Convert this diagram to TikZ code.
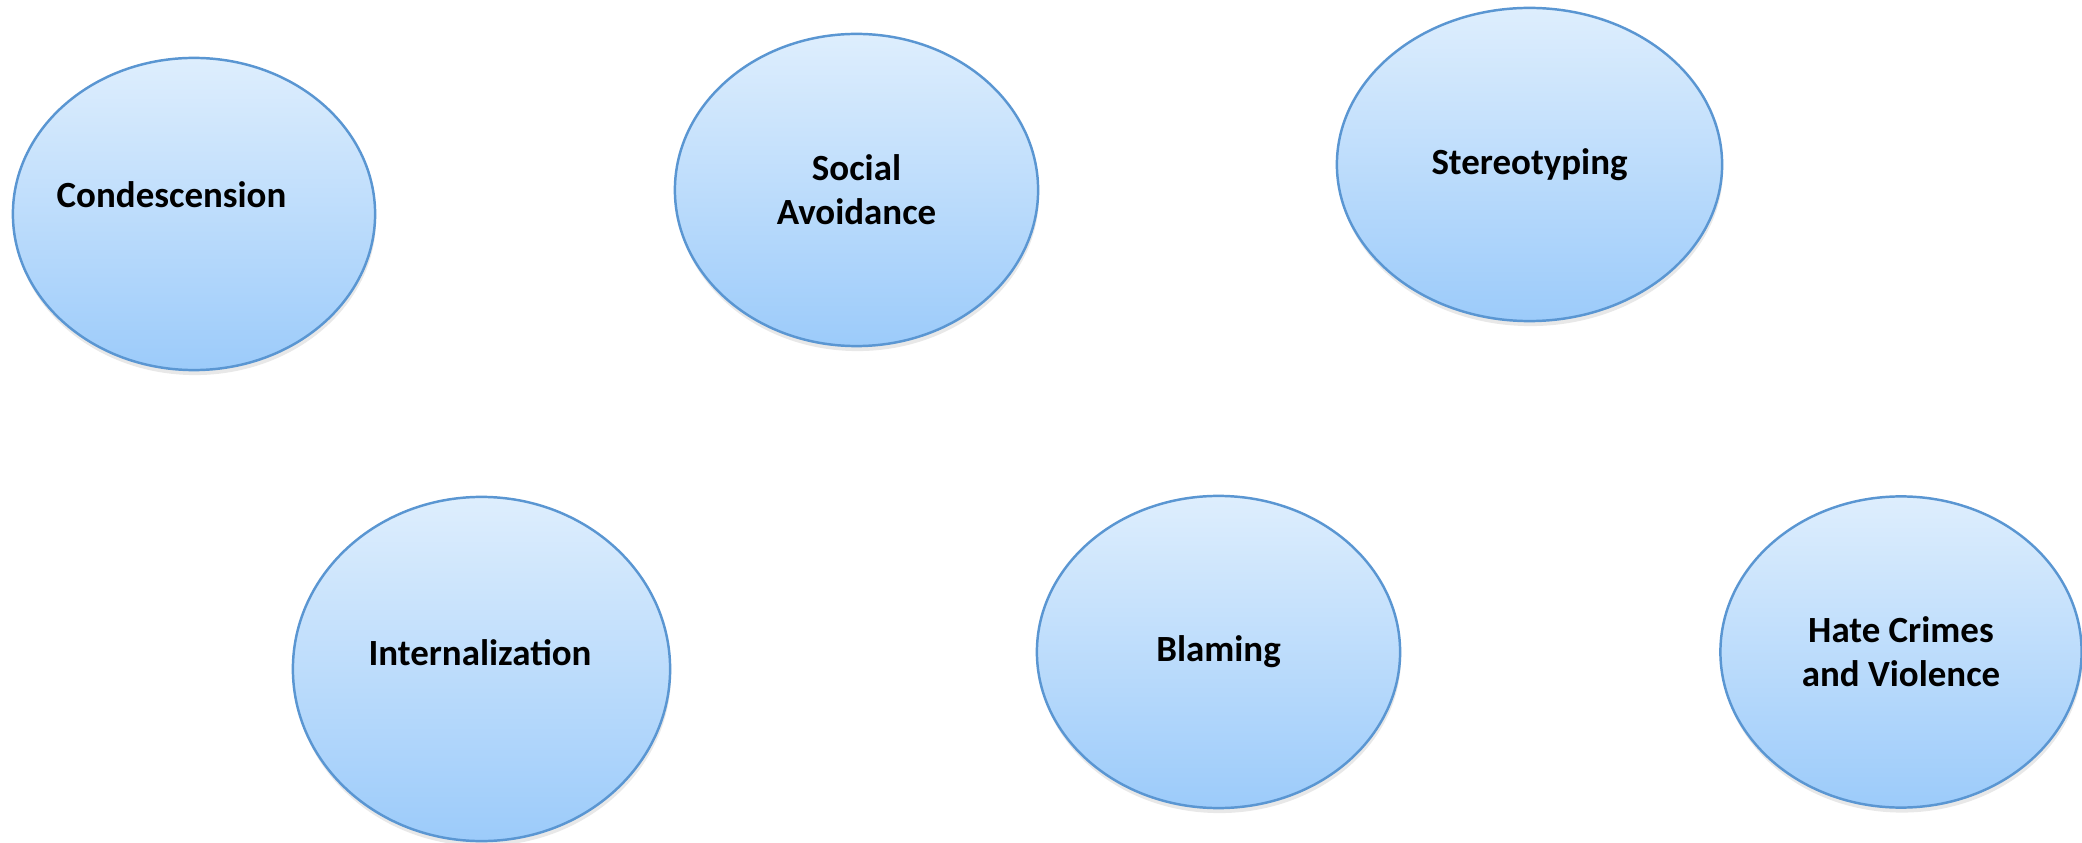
\documentclass[tikz,border=0pt]{standalone}
\usepackage{fontspec}
\setmainfont{Carlito}
\usetikzlibrary{shapes.geometric,shadows,positioning}

\definecolor{bubbletop}{HTML}{DEEEFD}
\definecolor{bubblebottom}{HTML}{9CCBFA}
\definecolor{bubbleline}{HTML}{5A96D2}

\begin{document}
\begin{tikzpicture}[
     x=0.01cm, y=0.01cm,
     % define styles
     bubble/.style={
         ellipse,
         draw=bubbleline,
         line width=0.7pt,
         top color=bubbletop,
         bottom color=bubblebottom,
         inner sep=0pt,
         drop shadow={opacity=0.18, shadow xshift=0.01cm, shadow yshift=-0.05cm},
         font=\fontsize{10.5}{12.5}\selectfont\bfseries,
         align=center
     },
     caption/.style={
         font=\fontsize{10.5}{12.5}\selectfont\bfseries,
         inner sep=0pt
     }
]
\useasboundingbox (0,0) rectangle (2082,842);

% top row
\node[bubble, minimum width=3.62cm, minimum height=3.12cm] (cond) at (194,628) {};
\node[caption, anchor=base west] (condtext) at (56,634) {Condescension};
\node[bubble, minimum width=3.63cm, minimum height=3.12cm] (avoid) at (856.5,652) {Social\\Avoidance};
\node[bubble, minimum width=3.85cm, minimum height=3.13cm] (stereo) at (1529.5,677.5) {Stereotyping};

% bottom row
\node[bubble, minimum width=3.77cm, minimum height=3.44cm] (intern) at (481.5,173) {};
\node[caption, anchor=base] (interntext) at (480,177) {Internalization};
\node[bubble, minimum width=3.63cm, minimum height=3.12cm] (blame) at (1218.5,190) {Blaming};
\node[bubble, minimum width=3.61cm, minimum height=3.11cm] (hate) at (1901,190) {Hate Crimes\\and Violence};
\end{tikzpicture}
\end{document}
